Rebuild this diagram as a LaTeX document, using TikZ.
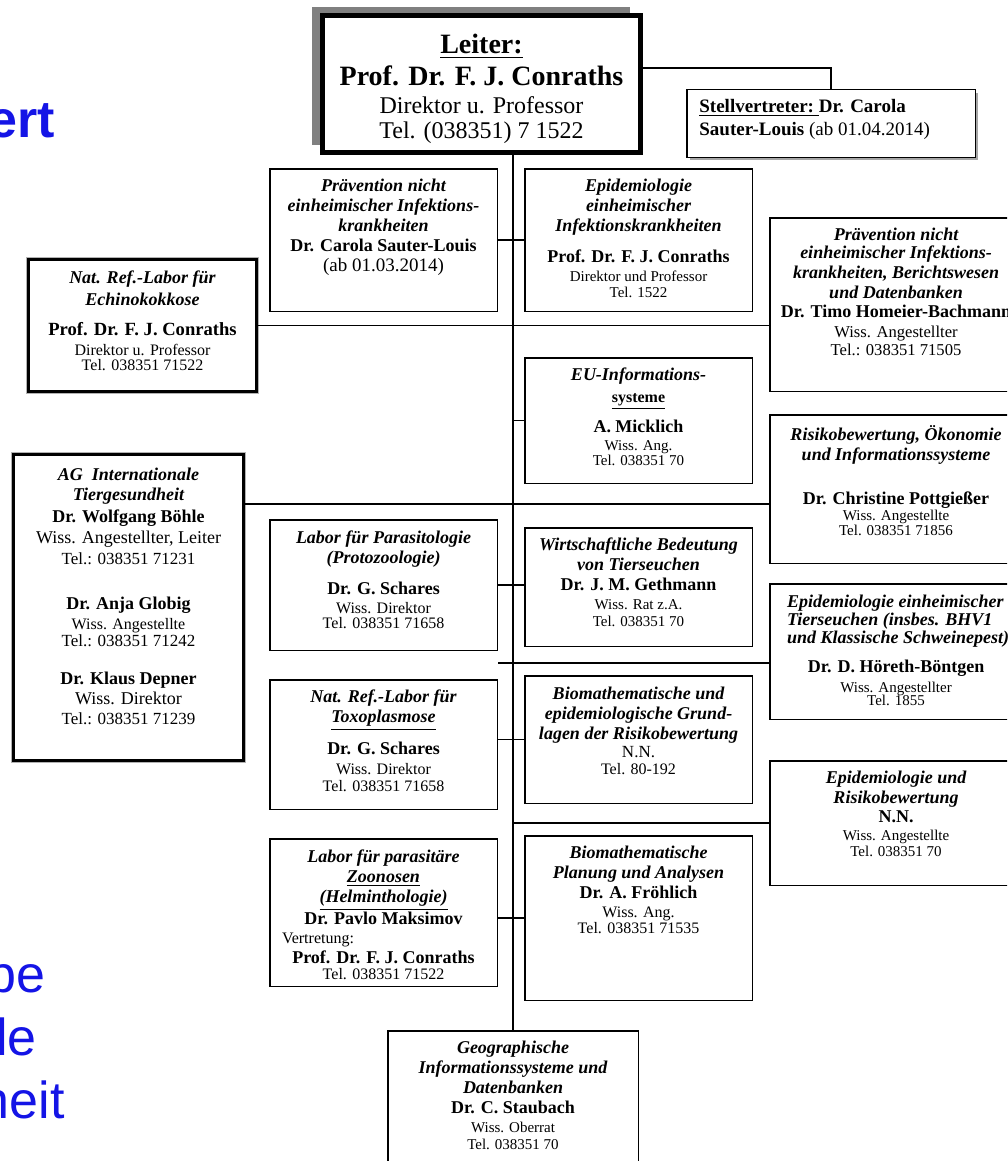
\documentclass[tikz,border=0pt]{standalone}
\usepackage{fontspec}
\setmainfont{Liberation Serif}
\newfontfamily\slidefont{Liberation Sans}
\usetikzlibrary{positioning,shadows}
\definecolor{slideblue}{RGB}{20,20,230}
\newcommand{\fsz}[1]{\fontsize{#1}{10}\selectfont}
\newcommand{\ttl}{\bfseries\itshape}
\newcommand{\nam}{\bfseries}
\tikzstyle{unit}=[draw,fill=white,line width=0.75pt,inner sep=0pt,minimum width=113.75pt]
\tikzstyle{wide}=[unit,minimum width=126.25pt]
\tikzstyle{framed}=[unit,line width=1.2pt,preaction={draw=gray!60,line width=2.6pt}]
\tikzstyle{chief}=[draw,fill=white,line width=2.5pt,minimum width=159pt,minimum height=68.5pt,align=center,font=\fontsize{14}{16}\selectfont\bfseries,drop shadow={shadow xshift=-5.5pt,shadow yshift=4pt,fill=gray,opacity=1}]
\tikzstyle{deputy}=[unit,minimum width=144.25pt,minimum height=33.75pt,drop shadow={shadow xshift=1.5pt,shadow yshift=-1.5pt,fill=gray!70,opacity=1}]
\tikzstyle{txt}=[align=center,inner sep=0pt,font=\fontsize{9}{10}\selectfont]
\tikzstyle{line}=[draw,line width=0.7pt]
\tikzstyle{slide}=[anchor=base east,inner sep=0pt,text=slideblue,font=\slidefont\fontsize{26}{30}\selectfont]

\begin{document}
\begin{tikzpicture}[x=0.5pt,y=-0.5pt]
    \clip (0,0) rectangle (1007,1161);
    % slide title, cut off at the left
    \node[slide,font=\slidefont\bfseries\fontsize{26}{30}\selectfont] (ttlA) at (55,137) {ert};
    \node[slide] (ttlB) at (46,992) {be};
    \node[slide] (ttlC) at (37,1055) {le};
    \node[slide] (ttlD) at (65,1118) {heit};
    % head and deputy
    \node[chief] (leiter) at (481.5,84) {\rule{0pt}{15pt}\underline{Leiter:}\\Prof. Dr. F. J. Conraths\\[-2pt]{\mdseries\fontsize{12}{14}\selectfont Direktor u. Professor}\\[-3.5pt]{\mdseries\fontsize{12}{14}\selectfont Tel. (038351) 7 1522}};
    \node[deputy] (stell) at (831,123.5) {};
    \node[txt,align=left,anchor=north west,font=\fontsize{9.5}{11.5}\selectfont\bfseries] (stelltxt) at ([xshift=6.5pt,yshift=-5pt]stell.north west) {\underline{Stellvertreter:\ }Dr. Carola\\Sauter-Louis {\mdseries (ab 01.04.2014)}};
    % left column
    \node[framed,minimum width=114pt,minimum height=66pt] (echino) at (142.5,325.5) {};
    \node[txt,below=6.25pt of echino.north] (echinotxt) {{\ttl Nat. Ref.-Labor für}\\[1pt]{\ttl Echinokokkose}\\[5pt]{\nam\fsz{9.3}Prof. Dr. F. J. Conraths}\\{\fsz{8}Direktor u. Professor}\\[-2.5pt]{\fsz{8}Tel. 038351 71522}};
    \node[framed,minimum width=115pt,minimum height=153pt] (ag) at (128.5,607.5) {};
    \node[txt,below=7.25pt of ag.north] (agtxt) {{\ttl AG\ \ Internationale}\\{\ttl Tiergesundheit}\\[1pt]{\nam Dr. Wolfgang Böhle}\\[0.5pt]{Wiss. Angestellter, Leiter}\\[0.5pt]{\fsz{8.5}Tel.: 038351 71231}\\[12.5pt]{\nam Dr. Anja Globig}\\{\fsz{8}Wiss. Angestellte}\\[-1.5pt]{\fsz{8.5}Tel.: 038351 71242}\\[9pt]{\nam Dr. Klaus Depner}\\{Wiss. Direktor}\\{\fsz{8.5}Tel.: 038351 71239}};
    % second column
    \node[unit,minimum height=71.25pt] (p1) at (383.5,240) {};
    \node[txt,below=5.5pt of p1.north] (p1txt) {{\ttl Prävention nicht}\\{\ttl einheimischer Infektions-}\\{\ttl krankheiten}\\{\nam Dr. Carola Sauter-Louis}\\{\fsz{9.5}(ab 01.03.2014)}};
    \node[unit,minimum height=65.25pt] (l1) at (383.5,585) {};
    \node[txt,below=5.75pt of l1.north] (l1txt) {{\ttl Labor für Parasitologie}\\{\ttl (Protozoologie)}\\[5.5pt]{\nam Dr. G. Schares}\\[-0.5pt]{\fsz{8}Wiss. Direktor}\\[-2.5pt]{\fsz{8}Tel. 038351 71658}};
    \node[unit,minimum height=64.75pt] (l2) at (383.5,744.5) {};
    \node[txt,below=5.25pt of l2.north] (l2txt) {{\ttl Nat. Ref.-Labor für}\\{\ttl\underline{Toxoplasmose}}\\[5pt]{\nam Dr. G. Schares}\\{\fsz{8}Wiss. Direktor}\\[-1.5pt]{\fsz{8}Tel. 038351 71658}};
    \node[unit,minimum height=73.75pt] (l3) at (383.5,912.5) {};
    \node[txt,below=5.75pt of l3.north] (l3txt) {{\ttl Labor für parasitäre}\\{\ttl\underline{Zoonosen}}\\{\ttl\underline{(Helminthologie)}}\\{\nam Dr. Pavlo Maksimov}\\[-0.5pt]{\fsz{8}\makebox[101.5pt][l]{Vertretung:}}\\{\nam Prof. Dr. F. J. Conraths}\\[-2pt]{\fsz{8}Tel. 038351 71522}};
    % third column
    \node[unit,minimum height=71.25pt] (e1) at (638.5,240) {};
    \node[txt,below=5.5pt of e1.north] (e1txt) {{\ttl Epidemiologie}\\{\ttl einheimischer}\\{\ttl Infektionskrankheiten}\\[5.5pt]{\nam Prof. Dr. F. J. Conraths}\\[-0.5pt]{\fsz{7.5}Direktor und Professor}\\[-2pt]{\fsz{7.5}Tel. 1522}};
    \node[unit,minimum height=62.75pt] (eu) at (638.5,420.5) {};
    \node[txt,below=5.25pt of eu.north] (eutxt) {{\ttl EU-Informations-}\\[1pt]{\bfseries\fsz{8}\underline{systeme}}\\[5pt]{\nam A. Micklich}\\[-1pt]{\fsz{7.5}Wiss. Ang.}\\[-2.5pt]{\fsz{7.5}Tel. 038351 70}};
    \node[unit,minimum height=59.25pt] (w) at (638.5,587) {};
    \node[txt,below=5.25pt of w.north] (wtxt) {{\ttl Wirtschaftliche Bedeutung}\\{\ttl von Tierseuchen}\\{\nam Dr. J. M. Gethmann}\\[-0.5pt]{\fsz{7.5}Wiss. Rat z.A.}\\[-1.5pt]{\fsz{7.5}Tel. 038351 70}};
    \node[unit,minimum height=63.75pt] (b1) at (638.5,739.5) {};
    \node[txt,below=5.75pt of b1.north] (b1txt) {{\ttl Biomathematische und}\\{\ttl epidemiologische Grund-}\\{\ttl lagen der Risikobewertung}\\[-1pt]{\fsz{8.5}N.N.}\\[-1.5pt]{\fsz{8}Tel. 80-192}};
    \node[unit,minimum height=82.25pt] (b2) at (638.5,918) {};
    \node[txt,below=5.25pt of b2.north] (b2txt) {{\ttl Biomathematische}\\{\ttl Planung und Analysen}\\{\nam Dr. A. Fröhlich}\\[-0.5pt]{\fsz{8}Wiss. Ang.}\\[-2pt]{\fsz{8}Tel. 038351 71535}};
    \node[unit,minimum width=125.25pt,minimum height=74.25pt] (geo) at (513,1105) {};
    \node[txt,below=5.25pt of geo.north] (geotxt) {{\ttl Geographische}\\{\ttl Informationssysteme und}\\{\ttl Datenbanken}\\{\nam Dr. C. Staubach}\\[-0.5pt]{\fsz{7.5}Wiss. Oberrat}\\[-1.5pt]{\fsz{7.5}Tel. 038351 70}};
    % right column (cut off at the right)
    \node[wide,minimum height=86.75pt] (r1) at (896,304.5) {};
    \node[txt,below=5.25pt of r1.north] (r1txt) {{\ttl Prävention nicht}\\[-1pt]{\ttl einheimischer Infektions-}\\{\ttl krankheiten, Berichtswesen}\\{\ttl und Datenbanken}\\[-0.5pt]{\nam Dr. Timo Homeier-Bachmann}\\{\fsz{8.3}Wiss. Angestellter}\\[-1pt]{\fsz{8.3}Tel.: 038351 71505}};
    \node[wide,minimum height=74.25pt] (r2) at (896,489) {};
    \node[txt,below=5.75pt of r2.north] (r2txt) {{\ttl Risikobewertung, Ökonomie}\\{\ttl und Informationssysteme}\\[12pt]{\nam Dr. Christine Pottgießer}\\[-2pt]{\fsz{7.5}Wiss. Angestellte}\\[-2.5pt]{\fsz{7.5}Tel. 038351 71856}};
    \node[wide,minimum height=67.75pt] (r3) at (896,651.5) {};
    \node[txt,below=5.75pt of r3.north] (r3txt) {{\ttl\makebox[109pt][l]{Epidemiologie einheimischer}}\\[-1pt]{\ttl\makebox[109pt][l]{Tierseuchen (insbes. BHV1}}\\[-1pt]{\ttl\makebox[109pt][l]{und Klassische Schweinepest)}}\\[4.5pt]{\nam Dr. D. Höreth-Böntgen}\\{\fsz{7.5}Wiss. Angestellter}\\[-3.5pt]{\fsz{7.5}Tel. 1855}};
    \node[wide,minimum height=62.25pt] (r4) at (896,823) {};
    \node[txt,below=5.25pt of r4.north] (r4txt) {{\ttl Epidemiologie und}\\{\ttl Risikobewertung}\\[-0.5pt]{\nam N.N.}\\[-1pt]{\fsz{7.5}Wiss. Angestellte}\\[-2pt]{\fsz{7.5}Tel. 038351 70}};
    % connections
    \path[line] ([yshift=8pt]leiter.east) -| (stell.north);
    \path[line] (leiter.south -| geo.north) -- (geo.north);
    \path[line] (p1.east) -- (e1.west);
    \path[line] (echino.east) -- (echino.east -| r1.west);
    \path[line] (eu.west) -- (eu.west -| geo.north);
    \path[line] ([yshift=-7.5pt]r2.west) -- ([yshift=-7.5pt]r2.west -| ag.east);
    \path[line] (l1.east) -- (l1.east -| w.west);
    \path[line] ([yshift=-5.75pt]r3.west) -- ([yshift=-5.75pt]r3.west -| l1.east);
    \path[line] (b1.west) -- (b1.west -| l2.east);
    \path[line] (r4.west) -- (r4.west -| geo.north);
    \path[line] (b2.west) -- (b2.west -| l3.east);
\end{tikzpicture}
\end{document}
